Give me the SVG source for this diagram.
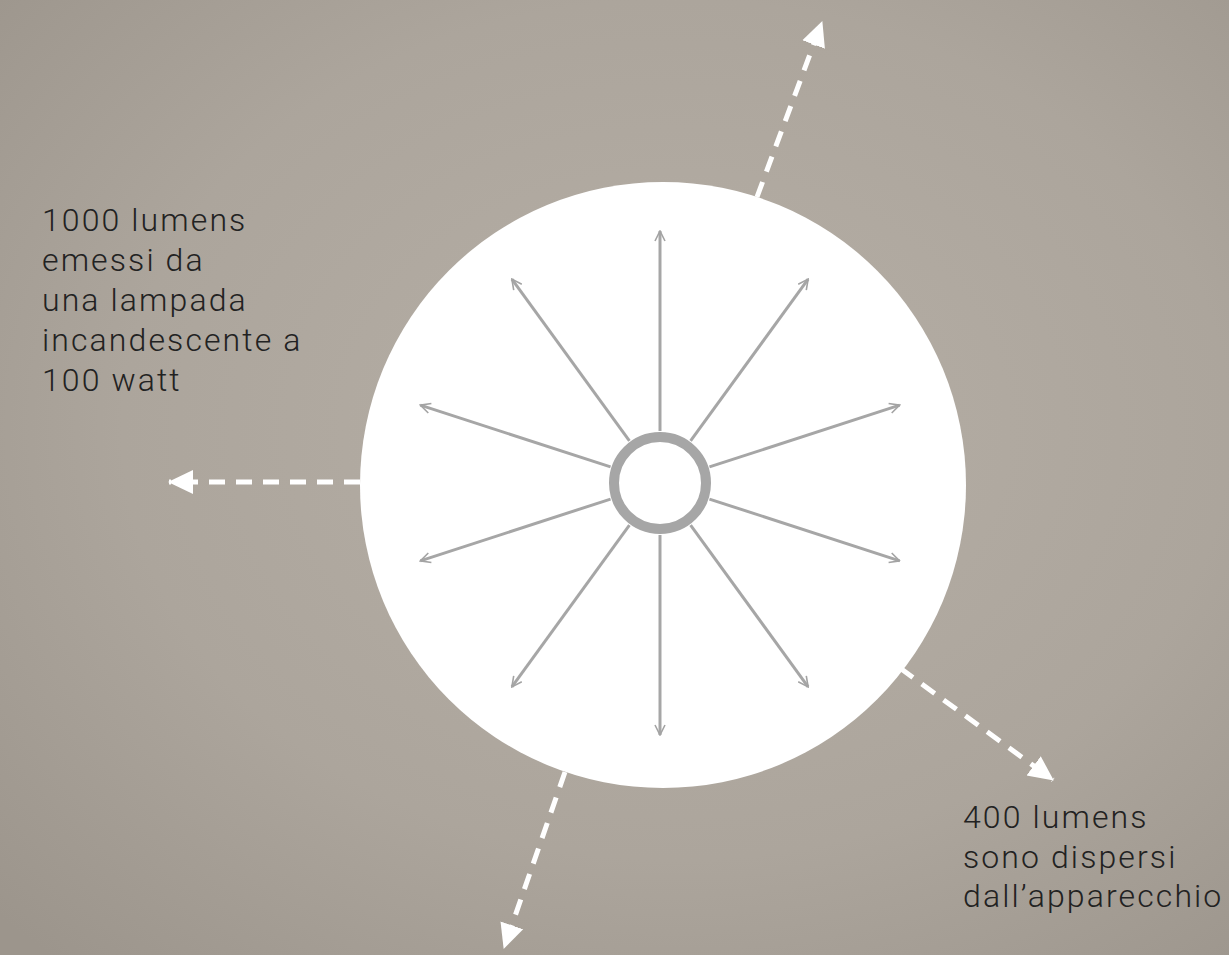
<svg xmlns="http://www.w3.org/2000/svg" width="1229" height="955" viewBox="0 0 1229 955">
<defs>
<radialGradient id="bg" cx="0.55" cy="0.45" r="0.75">
<stop offset="0" stop-color="#b6afa6"/>
<stop offset="0.6" stop-color="#aca59c"/>
<stop offset="1" stop-color="#9c958c"/>
</radialGradient>
<marker id="ray" viewBox="0 0 12 12" refX="11" refY="6" markerWidth="12" markerHeight="12" markerUnits="userSpaceOnUse" orient="auto">
<path d="M1,1 L11,6 L1,11" fill="none" stroke="#a3a3a3" stroke-width="1.6"/>
</marker>
<marker id="tri" viewBox="0 0 26 26" refX="24" refY="13" markerWidth="26" markerHeight="26" markerUnits="userSpaceOnUse" orient="auto">
<path d="M0,1 L25,13 L0,25 Z" fill="#ffffff"/>
</marker>
<style>
.label{font-family:Roboto,"Liberation Sans",sans-serif;font-weight:300;font-size:32px;letter-spacing:2.1px;fill:#222222}
.ray{stroke:#a6a6a6;stroke-width:3;fill:none;marker-end:url(#ray)}
.dash{stroke:#ffffff;stroke-width:5;stroke-dasharray:16 11;fill:none;marker-end:url(#tri)}
</style>
</defs>
<rect width="1229" height="955" fill="url(#bg)"/>
<g id="connectors">
<line class="dash" x1="757" y1="197" x2="822" y2="22"/>
<line class="dash" x1="360" y1="482" x2="169" y2="482"/>
<line class="dash" x1="565" y1="772" x2="504" y2="948"/>
<line class="dash" x1="900" y1="668" x2="1053" y2="780"/>
</g>
<g id="lamp">
<circle cx="663" cy="485" r="303" fill="#ffffff"/>
<g id="rays" transform="translate(660 483)">
<line class="ray" x1="0" y1="-52" x2="0" y2="-252"/>
<line class="ray" x1="0" y1="-52" x2="0" y2="-252" transform="rotate(36)"/>
<line class="ray" x1="0" y1="-52" x2="0" y2="-252" transform="rotate(72)"/>
<line class="ray" x1="0" y1="-52" x2="0" y2="-252" transform="rotate(108)"/>
<line class="ray" x1="0" y1="-52" x2="0" y2="-252" transform="rotate(144)"/>
<line class="ray" x1="0" y1="-52" x2="0" y2="-252" transform="rotate(180)"/>
<line class="ray" x1="0" y1="-52" x2="0" y2="-252" transform="rotate(216)"/>
<line class="ray" x1="0" y1="-52" x2="0" y2="-252" transform="rotate(252)"/>
<line class="ray" x1="0" y1="-52" x2="0" y2="-252" transform="rotate(288)"/>
<line class="ray" x1="0" y1="-52" x2="0" y2="-252" transform="rotate(324)"/>
<circle cx="0" cy="0" r="46" fill="#ffffff" stroke="#a6a6a6" stroke-width="10"/>
</g>
</g>
<g id="label-emitted">
<text class="label" x="42" y="231">1000 lumens</text>
<text class="label" x="42" y="271">emessi da</text>
<text class="label" x="42" y="311">una lampada</text>
<text class="label" x="42" y="351">incandescente a</text>
<text class="label" x="42" y="391">100 watt</text>
</g>
<g id="label-dispersed">
<text class="label" x="963" y="828">400 lumens</text>
<text class="label" x="963" y="868">sono dispersi</text>
<text class="label" x="963" y="907">dall’apparecchio</text>
</g>
</svg>
